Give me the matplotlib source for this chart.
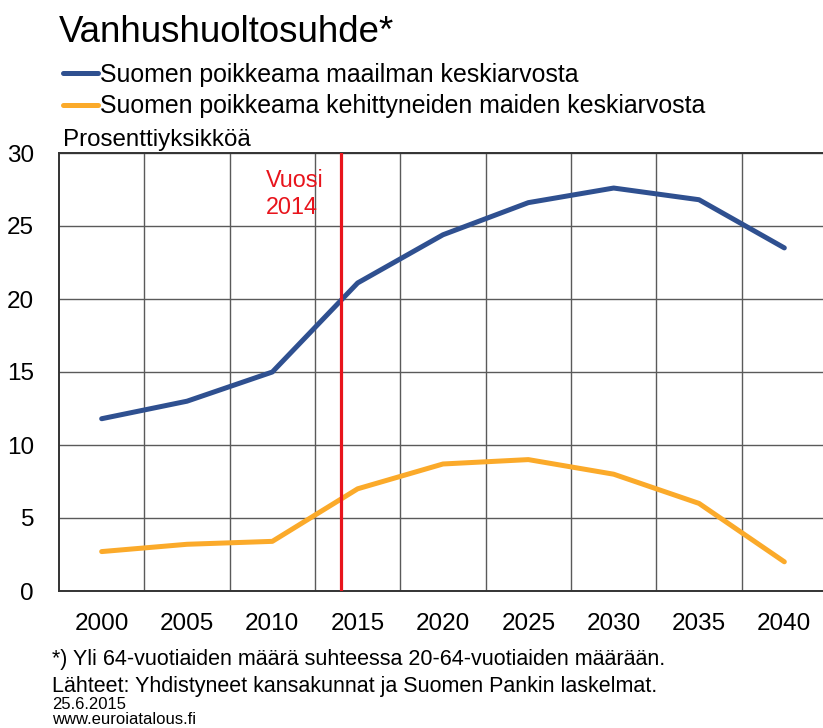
import matplotlib

matplotlib.use("Agg")
import matplotlib.pyplot as plt
import numpy as np

plt.rcParams["font.family"] = ["Liberation Sans", "DejaVu Sans"]

# ---- data ----
years = [2000, 2005, 2010, 2015, 2020, 2025, 2030, 2035, 2040]
world = [11.8, 13.0, 15.0, 21.1, 24.4, 26.6, 27.6, 26.8, 23.5]
developed = [2.7, 3.2, 3.4, 7.0, 8.7, 9.0, 8.0, 6.0, 2.0]
marker_year = 2014
labels = [
    "Suomen poikkeama maailman keskiarvosta",
    "Suomen poikkeama kehittyneiden maiden keskiarvosta",
]

BLUE = "#2f5090"
ORANGE = "#fbaa2a"
RED = "#e8141c"
GRID = "#5a5a5a"

W, H = 823, 728
fig = plt.figure(figsize=(W / 100, H / 100), dpi=100)
ax = fig.add_axes([59 / W, 1 - 591 / H, 768 / W, 438 / H])

l1, = ax.plot(years, world, color=BLUE, lw=3.6, solid_capstyle="round", zorder=3)
l2, = ax.plot(years, developed, color=ORANGE, lw=3.6, solid_capstyle="round", zorder=3)
ax.axvline(marker_year, color=RED, lw=2.3, zorder=4)
ax.text(marker_year - 4.4, 28.9, "Vuosi\n2014", color=RED, fontsize=16.8,
        va="top", ha="left", linespacing=1.2)

ax.set_xlim(1997.5, 2042.5)
ax.set_ylim(0, 30)
ax.set_xticks(years)
ax.set_xticks(np.arange(2002.5, 2042.5, 5), minor=True)
ax.set_yticks(range(0, 31, 5))
ax.tick_params(axis="both", which="both", length=0, labelsize=17.5)
ax.tick_params(axis="x", pad=16)
ax.tick_params(axis="y", pad=18)
ax.grid(False)
ax.xaxis.grid(True, which="minor", color=GRID, lw=1.0)
ax.yaxis.grid(True, which="major", color=GRID, lw=1.0)
for s in ax.spines.values():
    s.set_color("#333333")
    s.set_linewidth(1.4)

fig.text(59 / W, 1 - 42 / H, "Vanhushuoltosuhde*", fontsize=26.4, va="baseline")
fig.legend([l1, l2], labels, loc="upper left", bbox_to_anchor=(63 / W, 1 - 63 / H),
           frameon=False, fontsize=17.9, handlelength=1.4, handletextpad=0.1,
           labelspacing=0.3, borderpad=0, borderaxespad=0)
fig.text(63 / W, 1 - 146 / H, "Prosenttiyksikköä", fontsize=17.4, va="baseline")

fig.text(52 / W, 1 - 665 / H,
         "*) Yli 64-vuotiaiden määrä suhteessa 20-64-vuotiaiden määrään.",
         fontsize=15.5, va="baseline")
fig.text(52 / W, 1 - 692 / H,
         "Lähteet: Yhdistyneet kansakunnat ja Suomen Pankin laskelmat.",
         fontsize=15.5, va="baseline")
fig.text(52 / W, 1 - 709 / H, "25.6.2015", fontsize=12, va="baseline")
fig.text(52 / W, 1 - 724 / H, "www.euroiatalous.fi", fontsize=12, va="baseline")

fig.savefig("out.png", dpi=100)
